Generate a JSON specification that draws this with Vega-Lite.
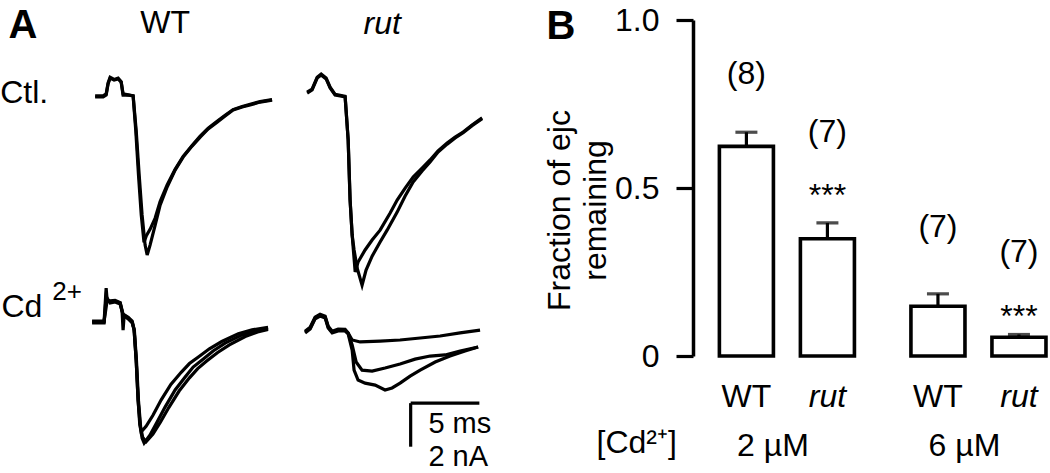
{
"$schema": "https://vega.github.io/schema/vega-lite/v6.json",
"padding": {"left": 0, "top": 4, "right": 0, "bottom": 0},
"background": "white",
"config": {"view": {"stroke": null}, "font": "Liberation Sans", "text": {"color": "black", "font": "Liberation Sans"}, "title": {"color": "black"}},
"spacing": 50,
"hconcat": [
{
"data": {"values": [
{"k":"tr","c":"Ctl","g":"WT","id":"cw1","t":0,"I":0},{"k":"tr","c":"Ctl","g":"WT","id":"cw1","t":0.58,"I":0},{"k":"tr","c":"Ctl","g":"WT","id":"cw1","t":0.8,"I":0.09},{"k":"tr","c":"Ctl","g":"WT","id":"cw1","t":0.94,"I":0.59},{"k":"tr","c":"Ctl","g":"WT","id":"cw1","t":1.09,"I":0.86},{"k":"tr","c":"Ctl","g":"WT","id":"cw1","t":1.38,"I":0.77},{"k":"tr","c":"Ctl","g":"WT","id":"cw1","t":1.67,"I":0.82},{"k":"tr","c":"Ctl","g":"WT","id":"cw1","t":1.89,"I":0.68},{"k":"tr","c":"Ctl","g":"WT","id":"cw1","t":2.03,"I":0.09},{"k":"tr","c":"Ctl","g":"WT","id":"cw1","t":2.4,"I":0.09},{"k":"tr","c":"Ctl","g":"WT","id":"cw1","t":2.76,"I":0.05},{"k":"tr","c":"Ctl","g":"WT","id":"cw1","t":2.98,"I":-1.5},{"k":"tr","c":"Ctl","g":"WT","id":"cw1","t":3.2,"I":-3.55},{"k":"tr","c":"Ctl","g":"WT","id":"cw1","t":3.41,"I":-5.36},{"k":"tr","c":"Ctl","g":"WT","id":"cw1","t":3.63,"I":-6.73},{"k":"tr","c":"Ctl","g":"WT","id":"cw1","t":3.78,"I":-7.18},{"k":"tr","c":"Ctl","g":"WT","id":"cw1","t":3.99,"I":-6.73},{"k":"tr","c":"Ctl","g":"WT","id":"cw1","t":4.36,"I":-5.82},{"k":"tr","c":"Ctl","g":"WT","id":"cw1","t":4.72,"I":-4.91},{"k":"tr","c":"Ctl","g":"WT","id":"cw1","t":5.23,"I":-4.09},{"k":"tr","c":"Ctl","g":"WT","id":"cw1","t":5.81,"I":-3.32},{"k":"tr","c":"Ctl","g":"WT","id":"cw1","t":6.39,"I":-2.73},{"k":"tr","c":"Ctl","g":"WT","id":"cw1","t":7.04,"I":-2.23},{"k":"tr","c":"Ctl","g":"WT","id":"cw1","t":7.63,"I":-1.82},{"k":"tr","c":"Ctl","g":"WT","id":"cw1","t":8.21,"I":-1.45},{"k":"tr","c":"Ctl","g":"WT","id":"cw1","t":8.86,"I":-1.14},{"k":"tr","c":"Ctl","g":"WT","id":"cw1","t":9.44,"I":-0.86},{"k":"tr","c":"Ctl","g":"WT","id":"cw1","t":10.02,"I":-0.59},{"k":"tr","c":"Ctl","g":"WT","id":"cw1","t":10.68,"I":-0.45},{"k":"tr","c":"Ctl","g":"WT","id":"cw1","t":11.26,"I":-0.36},{"k":"tr","c":"Ctl","g":"WT","id":"cw1","t":11.98,"I":-0.23},{"k":"tr","c":"Ctl","g":"WT","id":"cw1","t":12.85,"I":-0.14},
{"k":"tr","c":"Ctl","g":"WT","id":"cw2","t":0,"I":0.05},{"k":"tr","c":"Ctl","g":"WT","id":"cw2","t":0.58,"I":0.05},{"k":"tr","c":"Ctl","g":"WT","id":"cw2","t":0.8,"I":0.14},{"k":"tr","c":"Ctl","g":"WT","id":"cw2","t":0.94,"I":0.64},{"k":"tr","c":"Ctl","g":"WT","id":"cw2","t":1.09,"I":0.9},{"k":"tr","c":"Ctl","g":"WT","id":"cw2","t":1.38,"I":0.8},{"k":"tr","c":"Ctl","g":"WT","id":"cw2","t":1.67,"I":0.86},{"k":"tr","c":"Ctl","g":"WT","id":"cw2","t":1.89,"I":0.7},{"k":"tr","c":"Ctl","g":"WT","id":"cw2","t":2.03,"I":0.14},{"k":"tr","c":"Ctl","g":"WT","id":"cw2","t":2.4,"I":0.1},{"k":"tr","c":"Ctl","g":"WT","id":"cw2","t":2.76,"I":0.05},{"k":"tr","c":"Ctl","g":"WT","id":"cw2","t":2.95,"I":-1.5},{"k":"tr","c":"Ctl","g":"WT","id":"cw2","t":3.15,"I":-3.55},{"k":"tr","c":"Ctl","g":"WT","id":"cw2","t":3.35,"I":-5.36},{"k":"tr","c":"Ctl","g":"WT","id":"cw2","t":3.55,"I":-6.6},{"k":"tr","c":"Ctl","g":"WT","id":"cw2","t":3.72,"I":-6.3},{"k":"tr","c":"Ctl","g":"WT","id":"cw2","t":4.0,"I":-6.0},{"k":"tr","c":"Ctl","g":"WT","id":"cw2","t":4.36,"I":-5.5},{"k":"tr","c":"Ctl","g":"WT","id":"cw2","t":4.72,"I":-4.75},{"k":"tr","c":"Ctl","g":"WT","id":"cw2","t":5.23,"I":-4.0},{"k":"tr","c":"Ctl","g":"WT","id":"cw2","t":5.81,"I":-3.28},{"k":"tr","c":"Ctl","g":"WT","id":"cw2","t":6.39,"I":-2.7},{"k":"tr","c":"Ctl","g":"WT","id":"cw2","t":7.04,"I":-2.2},{"k":"tr","c":"Ctl","g":"WT","id":"cw2","t":7.63,"I":-1.78},{"k":"tr","c":"Ctl","g":"WT","id":"cw2","t":8.21,"I":-1.42},{"k":"tr","c":"Ctl","g":"WT","id":"cw2","t":8.86,"I":-1.1},{"k":"tr","c":"Ctl","g":"WT","id":"cw2","t":9.44,"I":-0.83},{"k":"tr","c":"Ctl","g":"WT","id":"cw2","t":10.02,"I":-0.57},{"k":"tr","c":"Ctl","g":"WT","id":"cw2","t":10.68,"I":-0.43},{"k":"tr","c":"Ctl","g":"WT","id":"cw2","t":11.26,"I":-0.33},{"k":"tr","c":"Ctl","g":"WT","id":"cw2","t":11.98,"I":-0.21},{"k":"tr","c":"Ctl","g":"WT","id":"cw2","t":12.85,"I":-0.12},
{"k":"tr","c":"Ctl","g":"rut","id":"cr1","t":0,"I":0.18},{"k":"tr","c":"Ctl","g":"rut","id":"cr1","t":0.36,"I":0.32},{"k":"tr","c":"Ctl","g":"rut","id":"cr1","t":0.73,"I":0.86},{"k":"tr","c":"Ctl","g":"rut","id":"cr1","t":1.02,"I":1.0},{"k":"tr","c":"Ctl","g":"rut","id":"cr1","t":1.38,"I":0.82},{"k":"tr","c":"Ctl","g":"rut","id":"cr1","t":1.67,"I":0.41},{"k":"tr","c":"Ctl","g":"rut","id":"cr1","t":2.03,"I":0.09},{"k":"tr","c":"Ctl","g":"rut","id":"cr1","t":2.4,"I":0.05},{"k":"tr","c":"Ctl","g":"rut","id":"cr1","t":2.76,"I":0},{"k":"tr","c":"Ctl","g":"rut","id":"cr1","t":2.98,"I":-1.95},{"k":"tr","c":"Ctl","g":"rut","id":"cr1","t":3.12,"I":-4.68},{"k":"tr","c":"Ctl","g":"rut","id":"cr1","t":3.27,"I":-6.27},{"k":"tr","c":"Ctl","g":"rut","id":"cr1","t":3.49,"I":-7.95},{"k":"tr","c":"Ctl","g":"rut","id":"cr1","t":3.7,"I":-7.5},{"k":"tr","c":"Ctl","g":"rut","id":"cr1","t":4.21,"I":-6.95},{"k":"tr","c":"Ctl","g":"rut","id":"cr1","t":4.72,"I":-6.5},{"k":"tr","c":"Ctl","g":"rut","id":"cr1","t":5.3,"I":-6.05},{"k":"tr","c":"Ctl","g":"rut","id":"cr1","t":6.03,"I":-5.27},{"k":"tr","c":"Ctl","g":"rut","id":"cr1","t":6.54,"I":-4.68},{"k":"tr","c":"Ctl","g":"rut","id":"cr1","t":7.12,"I":-4.14},{"k":"tr","c":"Ctl","g":"rut","id":"cr1","t":7.7,"I":-3.64},{"k":"tr","c":"Ctl","g":"rut","id":"cr1","t":8.35,"I":-3.23},{"k":"tr","c":"Ctl","g":"rut","id":"cr1","t":8.93,"I":-2.86},{"k":"tr","c":"Ctl","g":"rut","id":"cr1","t":9.51,"I":-2.45},{"k":"tr","c":"Ctl","g":"rut","id":"cr1","t":10.17,"I":-2.09},{"k":"tr","c":"Ctl","g":"rut","id":"cr1","t":10.75,"I":-1.82},{"k":"tr","c":"Ctl","g":"rut","id":"cr1","t":11.33,"I":-1.59},{"k":"tr","c":"Ctl","g":"rut","id":"cr1","t":11.98,"I":-1.27},{"k":"tr","c":"Ctl","g":"rut","id":"cr1","t":12.71,"I":-0.95},
{"k":"tr","c":"Ctl","g":"rut","id":"cr2","t":0,"I":0.22},{"k":"tr","c":"Ctl","g":"rut","id":"cr2","t":0.36,"I":0.36},{"k":"tr","c":"Ctl","g":"rut","id":"cr2","t":0.73,"I":0.9},{"k":"tr","c":"Ctl","g":"rut","id":"cr2","t":1.02,"I":1.04},{"k":"tr","c":"Ctl","g":"rut","id":"cr2","t":1.38,"I":0.86},{"k":"tr","c":"Ctl","g":"rut","id":"cr2","t":1.67,"I":0.45},{"k":"tr","c":"Ctl","g":"rut","id":"cr2","t":2.03,"I":0.12},{"k":"tr","c":"Ctl","g":"rut","id":"cr2","t":2.4,"I":0.08},{"k":"tr","c":"Ctl","g":"rut","id":"cr2","t":2.76,"I":0.03},{"k":"tr","c":"Ctl","g":"rut","id":"cr2","t":2.98,"I":-1.95},{"k":"tr","c":"Ctl","g":"rut","id":"cr2","t":3.12,"I":-4.68},{"k":"tr","c":"Ctl","g":"rut","id":"cr2","t":3.27,"I":-6.27},{"k":"tr","c":"Ctl","g":"rut","id":"cr2","t":3.41,"I":-6.95},{"k":"tr","c":"Ctl","g":"rut","id":"cr2","t":3.63,"I":-7.77},{"k":"tr","c":"Ctl","g":"rut","id":"cr2","t":3.99,"I":-8.55},{"k":"tr","c":"Ctl","g":"rut","id":"cr2","t":4.28,"I":-7.86},{"k":"tr","c":"Ctl","g":"rut","id":"cr2","t":4.72,"I":-7.23},{"k":"tr","c":"Ctl","g":"rut","id":"cr2","t":5.3,"I":-6.59},{"k":"tr","c":"Ctl","g":"rut","id":"cr2","t":5.81,"I":-6.05},{"k":"tr","c":"Ctl","g":"rut","id":"cr2","t":6.54,"I":-5.23},{"k":"tr","c":"Ctl","g":"rut","id":"cr2","t":7.12,"I":-4.5},{"k":"tr","c":"Ctl","g":"rut","id":"cr2","t":7.7,"I":-3.86},{"k":"tr","c":"Ctl","g":"rut","id":"cr2","t":8.35,"I":-3.36},{"k":"tr","c":"Ctl","g":"rut","id":"cr2","t":8.93,"I":-2.95},{"k":"tr","c":"Ctl","g":"rut","id":"cr2","t":9.51,"I":-2.5},{"k":"tr","c":"Ctl","g":"rut","id":"cr2","t":10.17,"I":-2.14},{"k":"tr","c":"Ctl","g":"rut","id":"cr2","t":10.75,"I":-1.86},{"k":"tr","c":"Ctl","g":"rut","id":"cr2","t":11.33,"I":-1.62},{"k":"tr","c":"Ctl","g":"rut","id":"cr2","t":11.98,"I":-1.3},{"k":"tr","c":"Ctl","g":"rut","id":"cr2","t":12.71,"I":-0.98},
{"k":"tr","c":"Cd","g":"WT","id":"dw1","t":-0.22,"I":0.14},{"k":"tr","c":"Cd","g":"WT","id":"dw1","t":0.65,"I":0.14},{"k":"tr","c":"Cd","g":"WT","id":"dw1","t":0.8,"I":1.68},{"k":"tr","c":"Cd","g":"WT","id":"dw1","t":0.87,"I":1.14},{"k":"tr","c":"Cd","g":"WT","id":"dw1","t":1.09,"I":1.05},{"k":"tr","c":"Cd","g":"WT","id":"dw1","t":1.45,"I":1.09},{"k":"tr","c":"Cd","g":"WT","id":"dw1","t":1.82,"I":1.0},{"k":"tr","c":"Cd","g":"WT","id":"dw1","t":1.96,"I":0.59},{"k":"tr","c":"Cd","g":"WT","id":"dw1","t":2.03,"I":-0.23},{"k":"tr","c":"Cd","g":"WT","id":"dw1","t":2.11,"I":0.45},{"k":"tr","c":"Cd","g":"WT","id":"dw1","t":2.4,"I":0.32},{"k":"tr","c":"Cd","g":"WT","id":"dw1","t":2.69,"I":0.14},{"k":"tr","c":"Cd","g":"WT","id":"dw1","t":2.83,"I":-0.23},{"k":"tr","c":"Cd","g":"WT","id":"dw1","t":2.98,"I":-1.59},{"k":"tr","c":"Cd","g":"WT","id":"dw1","t":3.12,"I":-3.41},{"k":"tr","c":"Cd","g":"WT","id":"dw1","t":3.27,"I":-4.55},{"k":"tr","c":"Cd","g":"WT","id":"dw1","t":3.41,"I":-5.14},{"k":"tr","c":"Cd","g":"WT","id":"dw1","t":3.56,"I":-5.36},{"k":"tr","c":"Cd","g":"WT","id":"dw1","t":3.99,"I":-5.0},{"k":"tr","c":"Cd","g":"WT","id":"dw1","t":4.5,"I":-4.41},{"k":"tr","c":"Cd","g":"WT","id":"dw1","t":5.08,"I":-3.73},{"k":"tr","c":"Cd","g":"WT","id":"dw1","t":5.81,"I":-2.95},{"k":"tr","c":"Cd","g":"WT","id":"dw1","t":6.54,"I":-2.36},{"k":"tr","c":"Cd","g":"WT","id":"dw1","t":7.12,"I":-1.91},{"k":"tr","c":"Cd","g":"WT","id":"dw1","t":7.77,"I":-1.59},{"k":"tr","c":"Cd","g":"WT","id":"dw1","t":8.57,"I":-1.18},{"k":"tr","c":"Cd","g":"WT","id":"dw1","t":9.44,"I":-0.82},{"k":"tr","c":"Cd","g":"WT","id":"dw1","t":10.68,"I":-0.45},{"k":"tr","c":"Cd","g":"WT","id":"dw1","t":11.62,"I":-0.27},{"k":"tr","c":"Cd","g":"WT","id":"dw1","t":12.56,"I":-0.14},
{"k":"tr","c":"Cd","g":"WT","id":"dw2","t":-0.22,"I":0.1},{"k":"tr","c":"Cd","g":"WT","id":"dw2","t":0.65,"I":0.1},{"k":"tr","c":"Cd","g":"WT","id":"dw2","t":0.8,"I":1.3},{"k":"tr","c":"Cd","g":"WT","id":"dw2","t":1.09,"I":1.0},{"k":"tr","c":"Cd","g":"WT","id":"dw2","t":1.45,"I":1.05},{"k":"tr","c":"Cd","g":"WT","id":"dw2","t":1.82,"I":0.95},{"k":"tr","c":"Cd","g":"WT","id":"dw2","t":2.03,"I":0.45},{"k":"tr","c":"Cd","g":"WT","id":"dw2","t":2.4,"I":0.28},{"k":"tr","c":"Cd","g":"WT","id":"dw2","t":2.69,"I":0.1},{"k":"tr","c":"Cd","g":"WT","id":"dw2","t":2.83,"I":-0.2},{"k":"tr","c":"Cd","g":"WT","id":"dw2","t":2.98,"I":-1.6},{"k":"tr","c":"Cd","g":"WT","id":"dw2","t":3.12,"I":-3.4},{"k":"tr","c":"Cd","g":"WT","id":"dw2","t":3.24,"I":-4.5},{"k":"tr","c":"Cd","g":"WT","id":"dw2","t":3.34,"I":-4.86},{"k":"tr","c":"Cd","g":"WT","id":"dw2","t":3.7,"I":-4.6},{"k":"tr","c":"Cd","g":"WT","id":"dw2","t":4.2,"I":-4.1},{"k":"tr","c":"Cd","g":"WT","id":"dw2","t":4.8,"I":-3.4},{"k":"tr","c":"Cd","g":"WT","id":"dw2","t":5.5,"I":-2.7},{"k":"tr","c":"Cd","g":"WT","id":"dw2","t":6.25,"I":-2.15},{"k":"tr","c":"Cd","g":"WT","id":"dw2","t":6.85,"I":-1.75},{"k":"tr","c":"Cd","g":"WT","id":"dw2","t":7.5,"I":-1.45},{"k":"tr","c":"Cd","g":"WT","id":"dw2","t":8.3,"I":-1.08},{"k":"tr","c":"Cd","g":"WT","id":"dw2","t":9.2,"I":-0.75},{"k":"tr","c":"Cd","g":"WT","id":"dw2","t":10.4,"I":-0.4},{"k":"tr","c":"Cd","g":"WT","id":"dw2","t":11.4,"I":-0.22},{"k":"tr","c":"Cd","g":"WT","id":"dw2","t":12.56,"I":-0.1},
{"k":"tr","c":"Cd","g":"WT","id":"dw3","t":-0.22,"I":0.18},{"k":"tr","c":"Cd","g":"WT","id":"dw3","t":0.65,"I":0.18},{"k":"tr","c":"Cd","g":"WT","id":"dw3","t":0.87,"I":1.1},{"k":"tr","c":"Cd","g":"WT","id":"dw3","t":1.09,"I":1.1},{"k":"tr","c":"Cd","g":"WT","id":"dw3","t":1.45,"I":1.12},{"k":"tr","c":"Cd","g":"WT","id":"dw3","t":1.82,"I":1.02},{"k":"tr","c":"Cd","g":"WT","id":"dw3","t":2.03,"I":0.5},{"k":"tr","c":"Cd","g":"WT","id":"dw3","t":2.4,"I":0.35},{"k":"tr","c":"Cd","g":"WT","id":"dw3","t":2.69,"I":0.18},{"k":"tr","c":"Cd","g":"WT","id":"dw3","t":2.85,"I":-0.25},{"k":"tr","c":"Cd","g":"WT","id":"dw3","t":3.0,"I":-1.6},{"k":"tr","c":"Cd","g":"WT","id":"dw3","t":3.15,"I":-3.45},{"k":"tr","c":"Cd","g":"WT","id":"dw3","t":3.3,"I":-4.6},{"k":"tr","c":"Cd","g":"WT","id":"dw3","t":3.45,"I":-5.1},{"k":"tr","c":"Cd","g":"WT","id":"dw3","t":3.7,"I":-5.3},{"k":"tr","c":"Cd","g":"WT","id":"dw3","t":4.2,"I":-4.95},{"k":"tr","c":"Cd","g":"WT","id":"dw3","t":4.75,"I":-4.4},{"k":"tr","c":"Cd","g":"WT","id":"dw3","t":5.35,"I":-3.75},{"k":"tr","c":"Cd","g":"WT","id":"dw3","t":6.1,"I":-3.0},{"k":"tr","c":"Cd","g":"WT","id":"dw3","t":6.85,"I":-2.4},{"k":"tr","c":"Cd","g":"WT","id":"dw3","t":7.45,"I":-1.98},{"k":"tr","c":"Cd","g":"WT","id":"dw3","t":8.1,"I":-1.64},{"k":"tr","c":"Cd","g":"WT","id":"dw3","t":8.9,"I":-1.25},{"k":"tr","c":"Cd","g":"WT","id":"dw3","t":9.75,"I":-0.9},{"k":"tr","c":"Cd","g":"WT","id":"dw3","t":10.9,"I":-0.52},{"k":"tr","c":"Cd","g":"WT","id":"dw3","t":11.8,"I":-0.32},{"k":"tr","c":"Cd","g":"WT","id":"dw3","t":12.56,"I":-0.2},
{"k":"tr","c":"Cd","g":"rut","id":"dr1","t":-0.15,"I":-0.32},{"k":"tr","c":"Cd","g":"rut","id":"dr1","t":0.22,"I":-0.14},{"k":"tr","c":"Cd","g":"rut","id":"dr1","t":0.58,"I":0.32},{"k":"tr","c":"Cd","g":"rut","id":"dr1","t":0.94,"I":0.45},{"k":"tr","c":"Cd","g":"rut","id":"dr1","t":1.31,"I":0.36},{"k":"tr","c":"Cd","g":"rut","id":"dr1","t":1.53,"I":-0.09},{"k":"tr","c":"Cd","g":"rut","id":"dr1","t":1.82,"I":-0.32},{"k":"tr","c":"Cd","g":"rut","id":"dr1","t":2.25,"I":-0.23},{"k":"tr","c":"Cd","g":"rut","id":"dr1","t":2.76,"I":-0.23},{"k":"tr","c":"Cd","g":"rut","id":"dr1","t":2.98,"I":-0.36},{"k":"tr","c":"Cd","g":"rut","id":"dr1","t":3.27,"I":-0.68},{"k":"tr","c":"Cd","g":"rut","id":"dr1","t":3.85,"I":-0.77},{"k":"tr","c":"Cd","g":"rut","id":"dr1","t":5.3,"I":-0.73},{"k":"tr","c":"Cd","g":"rut","id":"dr1","t":6.75,"I":-0.68},{"k":"tr","c":"Cd","g":"rut","id":"dr1","t":8.21,"I":-0.59},{"k":"tr","c":"Cd","g":"rut","id":"dr1","t":9.66,"I":-0.5},{"k":"tr","c":"Cd","g":"rut","id":"dr1","t":11.11,"I":-0.36},{"k":"tr","c":"Cd","g":"rut","id":"dr1","t":12.56,"I":-0.23},
{"k":"tr","c":"Cd","g":"rut","id":"dr2","t":-0.15,"I":-0.28},{"k":"tr","c":"Cd","g":"rut","id":"dr2","t":0.22,"I":-0.1},{"k":"tr","c":"Cd","g":"rut","id":"dr2","t":0.58,"I":0.36},{"k":"tr","c":"Cd","g":"rut","id":"dr2","t":0.94,"I":0.49},{"k":"tr","c":"Cd","g":"rut","id":"dr2","t":1.31,"I":0.4},{"k":"tr","c":"Cd","g":"rut","id":"dr2","t":1.53,"I":-0.05},{"k":"tr","c":"Cd","g":"rut","id":"dr2","t":1.82,"I":-0.28},{"k":"tr","c":"Cd","g":"rut","id":"dr2","t":2.25,"I":-0.19},{"k":"tr","c":"Cd","g":"rut","id":"dr2","t":2.76,"I":-0.2},{"k":"tr","c":"Cd","g":"rut","id":"dr2","t":2.98,"I":-0.36},{"k":"tr","c":"Cd","g":"rut","id":"dr2","t":3.27,"I":-0.91},{"k":"tr","c":"Cd","g":"rut","id":"dr2","t":3.56,"I":-1.68},{"k":"tr","c":"Cd","g":"rut","id":"dr2","t":3.99,"I":-2.05},{"k":"tr","c":"Cd","g":"rut","id":"dr2","t":4.72,"I":-2.09},{"k":"tr","c":"Cd","g":"rut","id":"dr2","t":5.66,"I":-1.95},{"k":"tr","c":"Cd","g":"rut","id":"dr2","t":6.75,"I":-1.77},{"k":"tr","c":"Cd","g":"rut","id":"dr2","t":7.84,"I":-1.55},{"k":"tr","c":"Cd","g":"rut","id":"dr2","t":8.93,"I":-1.41},{"k":"tr","c":"Cd","g":"rut","id":"dr2","t":10.02,"I":-1.36},{"k":"tr","c":"Cd","g":"rut","id":"dr2","t":11.11,"I":-1.18},{"k":"tr","c":"Cd","g":"rut","id":"dr2","t":12.42,"I":-1.0},
{"k":"tr","c":"Cd","g":"rut","id":"dr3","t":-0.15,"I":-0.36},{"k":"tr","c":"Cd","g":"rut","id":"dr3","t":0.22,"I":-0.18},{"k":"tr","c":"Cd","g":"rut","id":"dr3","t":0.58,"I":0.28},{"k":"tr","c":"Cd","g":"rut","id":"dr3","t":0.94,"I":0.41},{"k":"tr","c":"Cd","g":"rut","id":"dr3","t":1.31,"I":0.32},{"k":"tr","c":"Cd","g":"rut","id":"dr3","t":1.53,"I":-0.13},{"k":"tr","c":"Cd","g":"rut","id":"dr3","t":1.82,"I":-0.36},{"k":"tr","c":"Cd","g":"rut","id":"dr3","t":2.25,"I":-0.27},{"k":"tr","c":"Cd","g":"rut","id":"dr3","t":2.76,"I":-0.27},{"k":"tr","c":"Cd","g":"rut","id":"dr3","t":2.98,"I":-0.4},{"k":"tr","c":"Cd","g":"rut","id":"dr3","t":3.27,"I":-1.14},{"k":"tr","c":"Cd","g":"rut","id":"dr3","t":3.41,"I":-2.05},{"k":"tr","c":"Cd","g":"rut","id":"dr3","t":3.7,"I":-2.5},{"k":"tr","c":"Cd","g":"rut","id":"dr3","t":4.21,"I":-2.64},{"k":"tr","c":"Cd","g":"rut","id":"dr3","t":4.94,"I":-2.73},{"k":"tr","c":"Cd","g":"rut","id":"dr3","t":5.66,"I":-2.95},{"k":"tr","c":"Cd","g":"rut","id":"dr3","t":6.17,"I":-2.86},{"k":"tr","c":"Cd","g":"rut","id":"dr3","t":6.75,"I":-2.64},{"k":"tr","c":"Cd","g":"rut","id":"dr3","t":7.48,"I":-2.32},{"k":"tr","c":"Cd","g":"rut","id":"dr3","t":8.21,"I":-2.05},{"k":"tr","c":"Cd","g":"rut","id":"dr3","t":9.3,"I":-1.68},{"k":"tr","c":"Cd","g":"rut","id":"dr3","t":10.38,"I":-1.41},{"k":"tr","c":"Cd","g":"rut","id":"dr3","t":11.47,"I":-1.18},{"k":"tr","c":"Cd","g":"rut","id":"dr3","t":12.42,"I":-1.0},
{"k":"lab","r":"panel","c":"Ctl","g":"WT","t":-6.3,"I":2.68,"s":"A"},
{"k":"lab","r":"head","c":"Ctl","g":"WT","t":5.08,"I":2.9,"s":"WT"},
{"k":"lab","r":"headi","c":"Ctl","g":"rut","t":5.45,"I":2.85,"s":"rut"},
{"k":"lab","r":"row","c":"Ctl","g":"WT","t":-6.9,"I":-0.27,"s":"Ctl."},
{"k":"lab","r":"row","c":"Cd","g":"WT","t":-6.8,"I":0.38,"s":"Cd"},
{"k":"lab","r":"sup","c":"Cd","g":"WT","t":-3.12,"I":1.14,"s":"2+"},
{"k":"lab","r":"scale","c":"Cd","g":"rut","t":8.81,"I":-4.91,"s":"5 ms"},
{"k":"lab","r":"scale","c":"Cd","g":"rut","t":8.81,"I":-6.41,"s":"2 nA"},
{"k":"sb","c":"Cd","g":"rut","t":7.52,"I":-3.55,"t2":7.52,"I2":-5.53},
{"k":"sb","c":"Cd","g":"rut","t":7.52,"I":-3.55,"t2":12.51,"I2":-3.55}
]},
"facet": {
  "row": {"field": "c", "type": "nominal", "sort": ["Ctl", "Cd"], "header": null},
  "column": {"field": "g", "type": "nominal", "sort": ["WT", "rut"], "header": null}
},
"spacing": {"row": 2, "column": 22},
"bounds": "flush",
"spec": {
  "width": 190,
  "height": 226,
  "layer": [
    {"transform": [{"filter": "datum.k === 'tr'"}],
     "mark": {"type": "line", "color": "black", "strokeWidth": 3.2},
     "encoding": {
       "x": {"field": "t", "type": "quantitative", "scale": {"domain": [-0.3, 13.5], "nice": false, "zero": false}, "axis": null},
       "y": {"field": "I", "type": "quantitative", "scale": {"domain": [-6.77, 3.5], "nice": false, "zero": false}, "axis": null},
       "detail": {"field": "id"}
     }},
    {"transform": [{"filter": "datum.k === 'sb'"}],
     "mark": {"type": "rule", "color": "black", "strokeWidth": 3.2},
     "encoding": {
       "x": {"field": "t", "type": "quantitative", "scale": {"domain": [-0.3, 13.5], "nice": false, "zero": false}, "axis": null},
       "x2": {"field": "t2"},
       "y": {"field": "I", "type": "quantitative", "scale": {"domain": [-6.77, 3.5], "nice": false, "zero": false}, "axis": null},
       "y2": {"field": "I2"}
     }},
    {"transform": [{"filter": "datum.r === 'panel'"}],
     "mark": {"type": "text", "align": "left", "baseline": "alphabetic", "fontSize": 40, "fontWeight": "bold"},
     "encoding": {
       "x": {"field": "t", "type": "quantitative", "scale": {"domain": [-0.3, 13.5], "nice": false, "zero": false}, "axis": null},
       "y": {"field": "I", "type": "quantitative", "scale": {"domain": [-6.77, 3.5], "nice": false, "zero": false}, "axis": null},
       "text": {"field": "s"}
     }},
    {"transform": [{"filter": "datum.r === 'head'"}],
     "mark": {"type": "text", "align": "center", "baseline": "alphabetic", "fontSize": 32},
     "encoding": {
       "x": {"field": "t", "type": "quantitative", "scale": {"domain": [-0.3, 13.5], "nice": false, "zero": false}, "axis": null},
       "y": {"field": "I", "type": "quantitative", "scale": {"domain": [-6.77, 3.5], "nice": false, "zero": false}, "axis": null},
       "text": {"field": "s"}
     }},
    {"transform": [{"filter": "datum.r === 'headi'"}],
     "mark": {"type": "text", "align": "center", "baseline": "alphabetic", "fontSize": 32, "fontStyle": "italic"},
     "encoding": {
       "x": {"field": "t", "type": "quantitative", "scale": {"domain": [-0.3, 13.5], "nice": false, "zero": false}, "axis": null},
       "y": {"field": "I", "type": "quantitative", "scale": {"domain": [-6.77, 3.5], "nice": false, "zero": false}, "axis": null},
       "text": {"field": "s"}
     }},
    {"transform": [{"filter": "datum.r === 'row'"}],
     "mark": {"type": "text", "align": "left", "baseline": "alphabetic", "fontSize": 32},
     "encoding": {
       "x": {"field": "t", "type": "quantitative", "scale": {"domain": [-0.3, 13.5], "nice": false, "zero": false}, "axis": null},
       "y": {"field": "I", "type": "quantitative", "scale": {"domain": [-6.77, 3.5], "nice": false, "zero": false}, "axis": null},
       "text": {"field": "s"}
     }},
    {"transform": [{"filter": "datum.r === 'scale'"}],
     "mark": {"type": "text", "align": "left", "baseline": "alphabetic", "fontSize": 29},
     "encoding": {
       "x": {"field": "t", "type": "quantitative", "scale": {"domain": [-0.3, 13.5], "nice": false, "zero": false}, "axis": null},
       "y": {"field": "I", "type": "quantitative", "scale": {"domain": [-6.77, 3.5], "nice": false, "zero": false}, "axis": null},
       "text": {"field": "s"}
     }},
    {"transform": [{"filter": "datum.r === 'sup'"}],
     "mark": {"type": "text", "align": "left", "baseline": "alphabetic", "fontSize": 26},
     "encoding": {
       "x": {"field": "t", "type": "quantitative", "scale": {"domain": [-0.3, 13.5], "nice": false, "zero": false}, "axis": null},
       "y": {"field": "I", "type": "quantitative", "scale": {"domain": [-6.77, 3.5], "nice": false, "zero": false}, "axis": null},
       "text": {"field": "s"}
     }}
  ]
}
},
{
"data": {"values": [
  {"conc": "2 µM", "geno": "WT", "mean": 0.624, "upper": 0.666, "n": "(8)", "ny": 0.811, "sig": "", "sy": 0},
  {"conc": "2 µM", "geno": "rut", "mean": 0.349, "upper": 0.396, "n": "(7)", "ny": 0.638, "sig": "***", "sy": 0.447},
  {"conc": "6 µM", "geno": "WT", "mean": 0.148, "upper": 0.185, "n": "(7)", "ny": 0.354, "sig": "", "sy": 0},
  {"conc": "6 µM", "geno": "rut", "mean": 0.056, "upper": 0.064, "n": "(7)", "ny": 0.28, "sig": "***", "sy": 0.086}
]},
"width": 358,
"height": 336,
"resolve": {"axis": {"x": "independent"}},
"layer": [
  {
    "encoding": {
      "x": {"field": "conc", "type": "nominal", "sort": ["2 µM", "6 µM"],
            "scale": {"paddingInner": 0.295, "paddingOuter": 0.082, "align": 0.84},
            "axis": {"orient": "bottom", "title": "[Cd²⁺]", "labelAngle": 0, "labelFontSize": 32, "labelColor": "black", "labelPadding": 74, "labelOffset": -14, "ticks": false, "domain": false, "titleFontSize": 32, "titleFontWeight": "normal", "titleColor": "black", "titleX": -97, "titleY": 96, "titleAlign": "left", "titleBaseline": "alphabetic"}},
      "xOffset": {"field": "geno", "type": "nominal", "sort": ["WT", "rut"], "scale": {"paddingInner": 0.333, "paddingOuter": 0}}
    },
    "layer": [
      {"mark": {"type": "bar", "fill": "white", "stroke": "black", "strokeWidth": 3.6},
       "encoding": {"y": {"field": "mean", "type": "quantitative", "scale": {"domain": [0, 1], "nice": false},
          "axis": {"values": [0, 0.5, 1], "labelExpr": "datum.value === 0 ? '0' : format(datum.value, '.1f')", "labelFontSize": 32, "labelColor": "black", "labelPadding": 17, "tickSize": 17, "tickWidth": 3.2, "tickColor": "black", "domainWidth": 3.5, "domainColor": "black", "grid": false,
            "title": ["Fraction of ejc", "remaining"], "titleFontSize": 32, "titleFontWeight": "normal", "titleColor": "black", "titleX": -124, "titleY": 190, "titleAlign": "center", "titleBaseline": "alphabetic", "titleAngle": -90, "titleLineHeight": 36}}}},
      {"mark": {"type": "rule", "color": "black", "strokeWidth": 3.2},
       "encoding": {"y": {"field": "mean", "type": "quantitative", "scale": {"domain": [0, 1], "nice": false}}, "y2": {"field": "upper"}}},
      {"mark": {"type": "text", "fontSize": 32, "baseline": "alphabetic", "align": "center"},
       "encoding": {"y": {"field": "ny", "type": "quantitative", "scale": {"domain": [0, 1], "nice": false}}, "text": {"field": "n"}}},
      {"transform": [{"filter": "datum.sig !== ''"}],
       "mark": {"type": "text", "fontSize": 32, "baseline": "alphabetic", "align": "center"},
       "encoding": {"y": {"field": "sy", "type": "quantitative", "scale": {"domain": [0, 1], "nice": false}}, "text": {"field": "sig"}}},
      {"mark": {"type": "text", "fontSize": 32, "baseline": "alphabetic", "align": "center", "dy": 51, "fontStyle": {"expr": "datum.geno === 'rut' ? 'italic' : 'normal'"}},
       "encoding": {"y": {"datum": 0, "type": "quantitative", "scale": {"domain": [0, 1], "nice": false}}, "text": {"field": "geno"}}}
    ]
  },
  {
    "mark": {"type": "tick", "orient": "horizontal", "size": 22, "thickness": 3.2, "color": "black"},
    "encoding": {
      "x": {"field": "conc", "type": "nominal", "sort": ["2 µM", "6 µM"],
            "scale": {"paddingInner": 0.295, "paddingOuter": 0.082, "align": 0.84},
            "axis": {"orient": "top", "labels": false, "ticks": false, "domain": false, "title": "B", "titleFontSize": 40, "titleFontWeight": "bold", "titleColor": "black", "titleX": -147, "titleY": 18, "titleAlign": "left", "titleBaseline": "alphabetic", "titleAngle": 0}},
      "xOffset": {"field": "geno", "type": "nominal", "sort": ["WT", "rut"], "scale": {"paddingInner": 0.333, "paddingOuter": 0}},
      "y": {"field": "upper", "type": "quantitative", "scale": {"domain": [0, 1], "nice": false}}
    }
  }
]
}
]
}
